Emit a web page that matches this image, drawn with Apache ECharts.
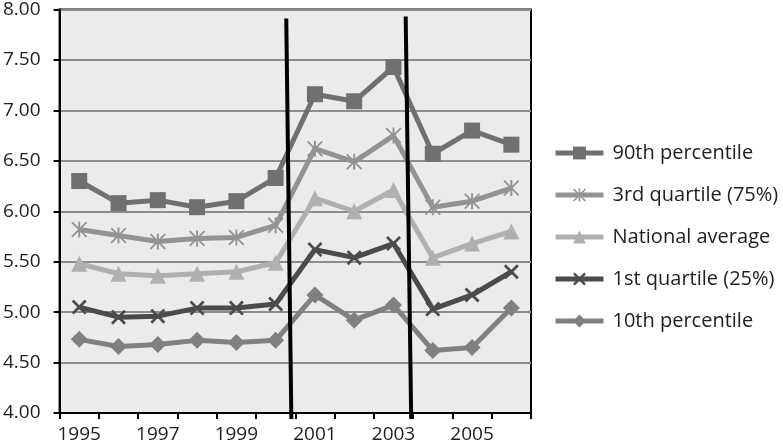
<!DOCTYPE html>
<html>
<head>
<meta charset="utf-8">
<script src="https://cdn.jsdelivr.net/npm/echarts@6/dist/echarts.min.js"></script>
<style>html,body{margin:0;padding:0;background:#fff;}#c{width:783px;height:446px;}</style>
</head>
<body>
<div id="c"></div>
<script>
var years = ['1995','1996','1997','1998','1999','2000','2001','2002','2003','2004','2005','2006'];
var p90  = [6.30, 6.08, 6.11, 6.04, 6.10, 6.33, 7.16, 7.09, 7.43, 6.57, 6.80, 6.66];
var q3   = [5.82, 5.76, 5.70, 5.73, 5.74, 5.86, 6.62, 6.49, 6.75, 6.04, 6.10, 6.23];
var natl = [5.48, 5.38, 5.36, 5.38, 5.40, 5.49, 6.13, 6.00, 6.21, 5.54, 5.68, 5.80];
var q1   = [5.05, 4.95, 4.96, 5.04, 5.04, 5.08, 5.62, 5.54, 5.68, 5.03, 5.17, 5.40];
var p10  = [4.73, 4.66, 4.68, 4.72, 4.70, 4.72, 5.17, 4.92, 5.07, 4.62, 4.65, 5.04];
var seriesNames = ['90th percentile','3rd quartile (75%)','National average','1st quartile (25%)','10th percentile'];
// annotation dividers in data space (x: category-boundary units 0..12, y: value)
var divider1 = [[5.77, 7.91], [5.90, 3.94]];
var divider2 = [[8.81, 7.93], [8.95, 3.94]];

var FONT = 'Open Sans';
var starPath = 'path://M4.4,0 H5.6 V10 H4.4 Z M0.8,0 L10,9.2 L9.2,10 L0,0.8 Z M9.2,0 L10,0.8 L0.8,10 L0,9.2 Z';
var xPath = 'path://M1.3,0 L5,3.7 L8.7,0 L10,1.3 L6.3,5 L10,8.7 L8.7,10 L5,6.3 L1.3,10 L0,8.7 L3.7,5 L0,1.3 Z';

function mk(name, data, color, symbol, size) {
  return {
    name: name, type: 'line', data: data,
    xAxisIndex: 0, yAxisIndex: 0,
    symbol: symbol, symbolSize: size,
    lineStyle: {color: color, width: 5},
    itemStyle: {color: color},
    emphasis: {disabled: true},
    animation: false
  };
}
function divider(d) {
  return {
    type: 'line', data: d, xAxisIndex: 1, yAxisIndex: 0,
    symbol: 'none', clip: false, z: 10,
    lineStyle: {color: '#000', width: 4},
    emphasis: {disabled: true}, silent: true, animation: false
  };
}

var chart = echarts.init(document.getElementById('c'), null, {renderer: 'canvas'});
chart.setOption({
  animation: false,
  grid: {left: 59, top: 9, right: 252, bottom: 33, show: true, backgroundColor: '#ebebeb', borderColor: '#000', borderWidth: 2, containLabel: false},
  legend: {
    orient: 'vertical', left: 548, top: 138,
    data: seriesNames,
    itemWidth: 48, itemHeight: 16, itemGap: 22,
    textStyle: {fontFamily: FONT, fontSize: 20, color: '#1e1e1e', padding: [0,0,0,4]},
    lineStyle: {width: 5},
    inactiveColor: '#ccc'
  },
  xAxis: [{
    type: 'category', data: years, boundaryGap: true,
    axisLine: {show: true, lineStyle: {color: '#000', width: 2}},
    axisTick: {show: true, interval: 0, length: 6, lineStyle: {color: '#000', width: 2}},
    axisLabel: {interval: 1, margin: 12, fontFamily: FONT, fontSize: 19, color: '#1e1e1e'},
    splitLine: {show: false}
  }, {
    type: 'value', min: 0, max: 12, show: false
  }],
  yAxis: [{
    type: 'value', min: 4, max: 8, interval: 0.5,
    axisLine: {show: true, lineStyle: {color: '#000', width: 2}},
    axisTick: {show: true, length: 6, lineStyle: {color: '#000', width: 2}},
    axisLabel: {margin: 19, fontFamily: FONT, fontSize: 19, color: '#1e1e1e', formatter: function(v){return v.toFixed(2);}},
    splitLine: {show: true, lineStyle: {color: '#8c8c8c', width: 2}}
  }],
  series: [
    mk(seriesNames[4], p10, '#808080', 'diamond', 17),
    mk(seriesNames[3], q1, '#4b4b4b', xPath, 15),
    mk(seriesNames[2], natl, '#b0b0b0', 'triangle', 16),
    mk(seriesNames[1], q3, '#939393', starPath, 16),
    mk(seriesNames[0], p90, '#707070', 'rect', 16),
    divider(divider1),
    divider(divider2)
  ]
});
</script>
</body>
</html>
